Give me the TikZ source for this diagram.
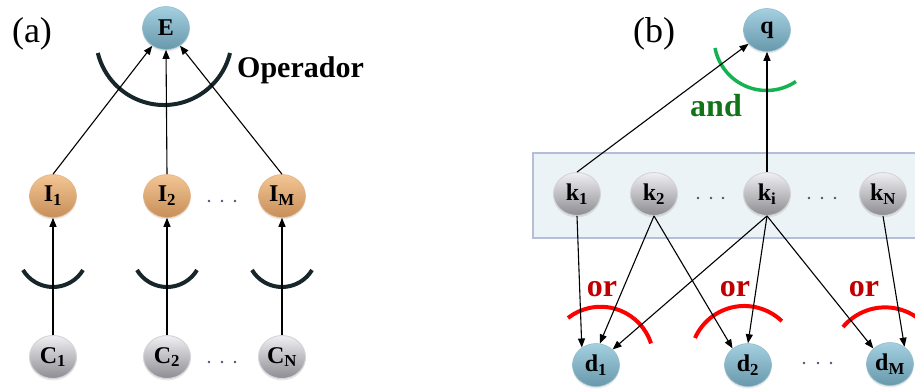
\documentclass[tikz,border=0pt]{standalone}
\usepackage{fontspec}
\setmainfont{Liberation Serif}
\usetikzlibrary{arrows.meta,shapes.geometric,shadows}
\definecolor{arcdark}{RGB}{22,38,42}
\definecolor{nbtop}{RGB}{164,208,224}
\definecolor{nbbot}{RGB}{104,152,172}
\definecolor{nbedge}{RGB}{150,190,205}
\definecolor{notop}{RGB}{242,198,148}
\definecolor{nobot}{RGB}{200,142,88}
\definecolor{noedge}{RGB}{225,180,135}
\definecolor{ngtop}{RGB}{240,240,243}
\definecolor{ngbot}{RGB}{140,140,146}
\definecolor{ngedge}{RGB}{212,212,216}
\definecolor{andgreen}{RGB}{18,115,25}
\definecolor{arcgreen}{RGB}{20,178,80}
\definecolor{ortext}{RGB}{192,0,0}
\definecolor{arcred}{RGB}{255,0,0}
\definecolor{boxfill}{RGB}{235,243,246}
\definecolor{boxedge}{RGB}{180,190,215}
\definecolor{dotc}{RGB}{80,80,120}
\begin{document}
\begin{tikzpicture}[x=1pt,y=-1pt,
  lab/.style={font=\fontsize{24}{24}\selectfont\bfseries},
  nd/.style={ellipse, minimum width=47pt, minimum height=43pt, inner sep=0pt, lab,
    drop shadow={opacity=0.18, shadow xshift=0pt, shadow yshift=-2pt}},
  bnode/.style={nd, top color=nbtop, bottom color=nbbot, draw=nbedge, line width=0.6pt},
  onode/.style={nd, top color=notop, bottom color=nobot, draw=noedge, line width=0.6pt},
  gnode/.style={nd, top color=ngtop, bottom color=ngbot, draw=ngedge, line width=0.9pt},
  arr/.style={-{Triangle[length=9pt,width=7pt]}, line width=1.1pt, black},
  darc/.style={line width=4pt, arcdark},
  garc/.style={line width=3.5pt, arcgreen},
  rarc/.style={line width=4pt, arcred},
  ortxt/.style={font=\fontsize{32}{32}\selectfont\bfseries, text=ortext, inner sep=0pt, anchor=base},
  dotm/.style={dotc}
]
\useasboundingbox (0,0) rectangle (915,389);
\clip (0,0) rectangle (915,389);

% ---------- panel (a) ----------
\node[font=\fontsize{36}{36}\selectfont, inner sep=0pt] (la) at (32,34) {(a)};
\node[bnode] (E) at (166,28) {E};
\node[onode] (I1) at (53,196) {I\textsubscript{1}};
\node[onode] (I2) at (167,196) {I\textsubscript{2}};
\node[onode] (IM) at (282,196) {I\textsubscript{M}};
\node[gnode] (C1) at (53,357) {C\textsubscript{1}};
\node[gnode] (C2) at (167,357) {C\textsubscript{2}};
\node[gnode] (CN) at (282,357) {C\textsubscript{N}};

\draw[darc] (230,53) arc[start angle=13.6, end angle=166.4, radius=68];
\node[font=\fontsize{30}{30}\selectfont\bfseries, inner sep=0pt, anchor=base west] (op) at (237,77) {Operador};

\draw[arr] (I1.north) -- (E);
\draw[arr] (I2.north) -- (E.south);
\draw[arr] (IM.north) -- (E);

\foreach \cx in {53,167,282} {
  \draw[darc] (\cx+30,270) arc[start angle=31, end angle=149, radius=35];
}
\draw[arr] (C1.north) -- (I1.south);
\draw[arr] (C2.north) -- (I2.south);
\draw[arr] (CN.north) -- (IM.south);

\foreach \dx in {209,222,235} {
  \fill[dotm] (\dx,201) circle (1.3pt);
  \fill[dotm] (\dx,362) circle (1.3pt);
}

% ---------- panel (b) ----------
\node[font=\fontsize{36}{36}\selectfont, inner sep=0pt] (lb) at (654,34) {(b)};
\draw[fill=boxfill, draw=boxedge, line width=1.6pt] (533,153) rectangle (935,238);

\node[bnode] (q) at (767,30) {q};
\node[gnode] (k1) at (577,194) {k\textsubscript{1}};
\node[gnode] (k2) at (654,194) {k\textsubscript{2}};
\node[gnode] (ki) at (767,194) {k\textsubscript{i}};
\node[gnode] (kN) at (883,194) {k\textsubscript{N}};
\node[bnode] (d1) at (596,365) {d\textsubscript{1}};
\node[bnode] (d2) at (748,365) {d\textsubscript{2}};
\node[bnode] (dM) at (890,364) {d\textsubscript{M}};

\draw[garc] (715,48) arc[start angle=169, end angle=56, radius=52.5];
\node[font=\fontsize{32}{32}\selectfont\bfseries, text=andgreen, inner sep=0pt, anchor=base] (and) at (716,116) {and};

\draw[arr] (k1.north) -- (q);
\draw[arr] (ki.north) -- (q.south);

\draw[rarc] (568,318) arc[start angle=-128, end angle=-18, radius=53];
\draw[rarc] (695,338) arc[start angle=-156, end angle=-46, radius=54];
\draw[rarc] (843,327) arc[start angle=-140, end angle=-40, radius=55];
\node[ortxt] (or1) at (602,296) {or};
\node[ortxt] (or2) at (735,296) {or};
\node[ortxt] (or3) at (864,296) {or};

\draw[arr] (k1.south) -- (d1.129);
\draw[arr] (k2.south) -- (d1.80);
\draw[arr] (ki.south) -- (d1.43);
\draw[arr] (k2.south) -- (d2.133);
\draw[arr] (ki.south) -- (d2.north);
\draw[arr] (ki.south) -- (dM.137);
\draw[arr] (kN.south) -- (dM.50);

\foreach \dx in {698,711,723,809,822,835} {
  \fill[dotm] (\dx,198) circle (1.3pt);
}
\foreach \dx in {804,818,831} {
  \fill[dotm] (\dx,363) circle (1.3pt);
}
\end{tikzpicture}
\end{document}
